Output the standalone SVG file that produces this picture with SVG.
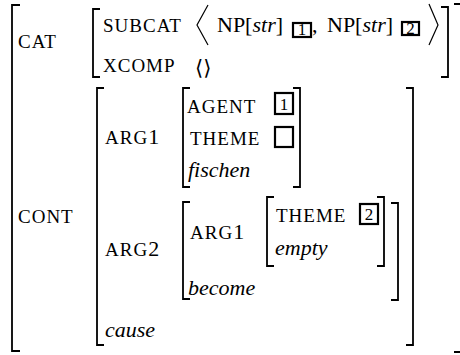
<svg xmlns="http://www.w3.org/2000/svg" width="460" height="355" viewBox="0 0 460 355">
<style>
.br{fill:none;stroke:#000;stroke-width:1.8;stroke-linecap:butt;stroke-linejoin:miter}
.ang{fill:none;stroke:#000;stroke-width:1.2}
text{fill:#000;font-family:'Liberation Serif','Times New Roman',serif}
.sc{font-size:19px;letter-spacing:1px}
.rm{font-size:22px}
.it{font-size:22px;font-style:italic}
.tag{fill:none;stroke:#000;stroke-width:2.2}
.tg{font-size:17px;text-anchor:middle}
.sym{font-size:21px;font-family:'DejaVu Sans',sans-serif}
</style>
<rect width="460" height="355" fill="#fff"/>
<g id="brackets">
<path class="br" d="M20,5 H12 V351 H20"/>
<path class="br" d="M454,4 H461 V352 H454"/>
<path class="br" d="M100,9 H93 V77 H100"/>
<path class="br" d="M441,7 H448 V77 H441"/>
<path class="ang" d="M208,5 L197,25 L208,45"/>
<path class="ang" d="M429,4 L438,25 L429,45"/>
<path class="br" d="M104,88 H97 V345 H104"/>
<path class="br" d="M406,88 H413 V345 H406"/>
<path class="br" d="M190,88 H183 V187 H190"/>
<path class="br" d="M293,88 H300 V187 H293"/>
<path class="br" d="M190,202 H183 V299 H190"/>
<path class="br" d="M391,203 H398 V300 H391"/>
<path class="br" d="M274,197 H267 V266 H274"/>
<path class="br" d="M377,197 H384 V266 H377"/>
</g>
<g id="cat">
<text class="sc" x="18" y="48">CAT</text>
<text class="sc" x="103" y="32">SUBCAT</text>
<text class="rm" x="217" y="32">NP[<tspan class="it">str</tspan>]</text>
<rect class="tag" x="293" y="23" width="18" height="14"/>
<text class="tg" x="302" y="35">1</text>
<text class="rm" x="312" y="32">,</text>
<text class="rm" x="327" y="32">NP[<tspan class="it">str</tspan>]</text>
<rect class="tag" x="402" y="22" width="17" height="13"/>
<text class="tg" x="410.5" y="33.5">2</text>
<text class="sc" x="103" y="72">XCOMP</text>
<text class="sym" x="195" y="75">⟨⟩</text>
</g>
<g id="cont">
<text class="sc" x="18" y="223">CONT</text>
<g id="arg1">
<text class="sc" x="105" y="144">ARG<tspan class="rm" letter-spacing="0">1</tspan></text>
<text class="sc" x="187" y="113">AGENT</text>
<rect class="tag" x="275" y="93" width="18" height="21"/>
<text class="tg" x="284" y="110">1</text>
<text class="sc" x="190" y="145">THEME</text>
<rect class="tag" x="275" y="127" width="18" height="20"/>
<text class="it" x="188" y="177">fischen</text>
</g>
<g id="arg2">
<text class="sc" x="105" y="256">ARG<tspan class="rm" letter-spacing="0">2</tspan></text>
<text class="sc" x="190" y="239">ARG<tspan class="rm" letter-spacing="0">1</tspan></text>
<text class="sc" x="276" y="222">THEME</text>
<rect class="tag" x="360" y="204" width="18" height="20"/>
<text class="tg" x="369" y="220">2</text>
<text class="it" x="275" y="255">empty</text>
<text class="it" x="188" y="295">become</text>
</g>
<text class="it" x="105" y="337">cause</text>
</g>
</svg>
